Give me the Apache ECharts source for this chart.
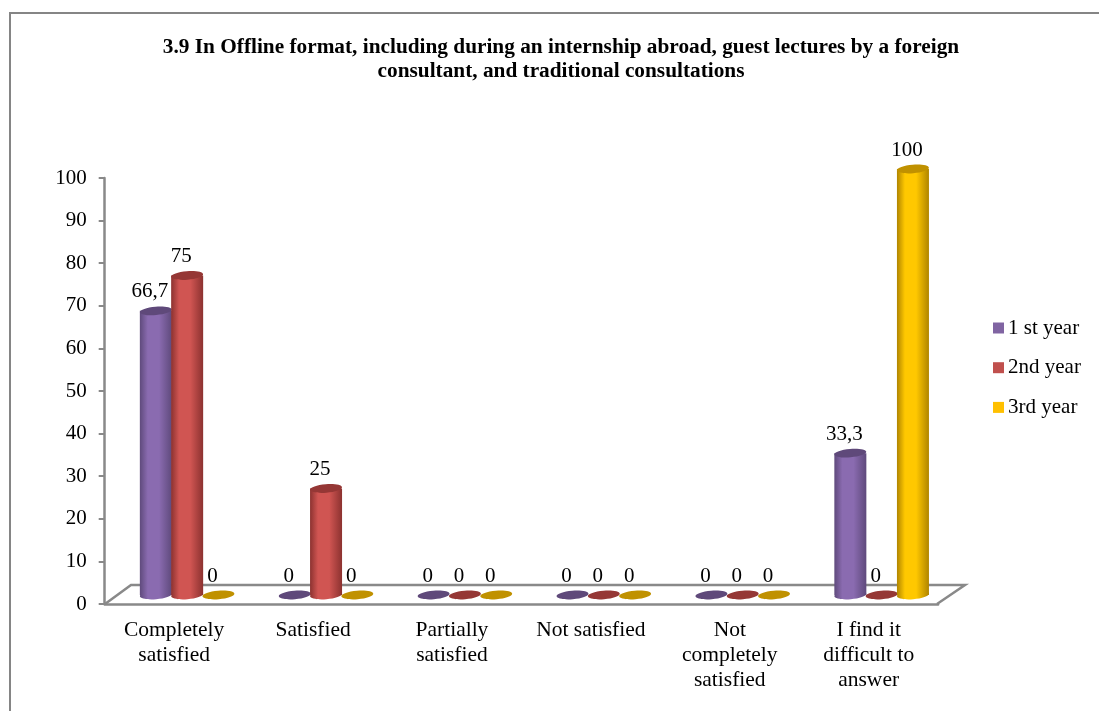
<!DOCTYPE html>
<html><head><meta charset="utf-8">
<style>html,body{margin:0;padding:0;background:#fff}#c{width:1099px;height:711px}</style>
<script src="https://cdn.jsdelivr.net/npm/echarts@6/dist/echarts.min.js"></script>
</head><body><div id="c"></div>
<script>
const titleText = '3.9 In Offline format, including during an internship abroad, guest lectures by a foreign\nconsultant, and traditional consultations';
const categories = ['Completely\nsatisfied','Satisfied','Partially\nsatisfied','Not satisfied','Not\ncompletely\nsatisfied','I find it\ndifficult to\nanswer'];
const year1 = [66.7,0,0,0,0,33.3];
const year2 = [75,25,0,0,0,0];
const year3 = [0,0,0,0,0,100];
const seriesNames = ['1 st year','2nd year','3rd year'];
const yTicks = {min:0,max:100,interval:10};
const FONT = '"Liberation Serif","Times New Roman",serif';

const palettes = [
  {legend:'#8064a2',edge:'#5f4a7c',mid:'#8a6bb0',top:'#5f497a'},
  {legend:'#c0504d',edge:'#8c3230',mid:'#d05552',top:'#953735'},
  {legend:'#ffc000',edge:'#b08500',mid:'#ffc800',top:'#c09100'}
];
const DX=13, DY=-9, BAR_STEP=31.3, RX=16, RY=4.2, TILT=0.08;

function cylinder(idx){
  const p=palettes[idx];
  return function(params,api){
    const cat=api.value(0), v=api.value(1);
    const base=api.coord([cat,0]), top=api.coord([cat,v]);
    const cx=base[0]+DX+(idx-1)*BAR_STEP, by=base[1]+DY, ty=top[1]+DY;
    const ell=(y,fill)=>({type:'ellipse',shape:{cx:cx,cy:y,rx:RX,ry:RY},rotation:TILT,originX:cx,originY:y,style:{fill:fill}});
    const grad={type:'linear',x:0,y:0,x2:1,y2:0,colorStops:[{offset:0,color:p.edge},{offset:.25,color:p.mid},{offset:.6,color:p.mid},{offset:1,color:p.edge}]};
    const kids=[];
    if(v>0){
      kids.push(ell(by,grad));
      kids.push({type:'rect',shape:{x:cx-RX,y:ty,width:RX*2,height:by-ty},style:{fill:grad}});
    }
    kids.push(ell(ty,p.top));
    kids.push({type:'text',style:{text:String(v).replace('.',','),x:cx-6,y:ty-19,align:'center',verticalAlign:'middle',font:'21px '+FONT,fill:'#000'}});
    return {type:'group',children:kids};
  };
}
const series=[year1,year2,year3].map((vals,i)=>({
  type:'custom',name:seriesNames[i],z:3+i,
  renderItem:cylinder(i),
  encode:{x:0,y:1},clip:false,
  itemStyle:{color:palettes[i].legend},
  data:vals.map((v,c)=>[c,v])
}));

const chart=echarts.init(document.getElementById('c'));
const axisGray='#898989';
chart.setOption({
  animation:false,backgroundColor:'#fff',
  title:{text:titleText,left:556,top:30,textAlign:'center',textStyle:{fontFamily:FONT,fontWeight:'bold',fontSize:21.3,lineHeight:24,color:'#000'}},
  legend:{orient:'vertical',left:988,top:312.5,itemWidth:11,itemHeight:11,itemGap:18.7,icon:'rect',data:seriesNames,
    textStyle:{fontFamily:FONT,fontSize:21,color:'#000',padding:[0,0,0,-1]}},
  grid:{left:104.7,top:178,width:833.4,height:426,containLabel:false},
  xAxis:{type:'category',data:categories,boundaryGap:true,
    axisLine:{lineStyle:{color:axisGray,width:2.5}},
    axisTick:{length:6,lineStyle:{color:axisGray,width:2},alignWithLabel:false},
    axisLabel:{interval:0,fontFamily:FONT,fontSize:21.5,lineHeight:25,color:'#000',margin:13.5},splitLine:{show:false}},
  yAxis:{type:'value',min:yTicks.min,max:yTicks.max,interval:yTicks.interval,
    axisLine:{show:true,lineStyle:{color:axisGray,width:2.5}},
    axisTick:{show:true,length:6,lineStyle:{color:axisGray,width:2}},
    axisLabel:{fontFamily:FONT,fontSize:21,color:'#000',margin:18},splitLine:{show:false}},
  graphic:[
    {type:'polyline',z:1,silent:true,shape:{points:[[105,604],[131,585],[965,585],[937,604]]},style:{stroke:axisGray,lineWidth:2.5,fill:null}},
    {type:'polyline',z:0,silent:true,shape:{points:[[10,711],[10,13],[1099,13]]},style:{stroke:'#858585',lineWidth:2,fill:null}}
  ],
  series:series
});
</script></body></html>
